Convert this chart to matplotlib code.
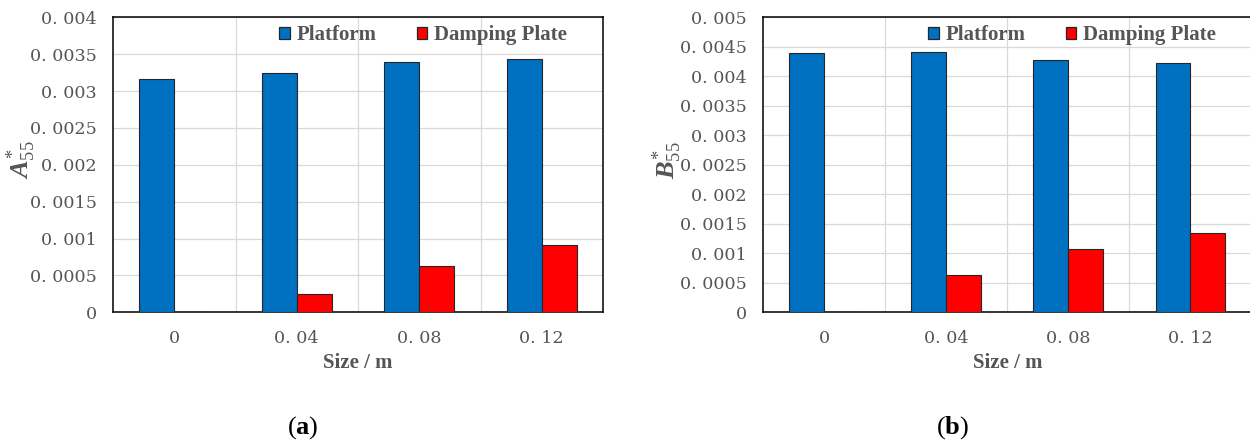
import matplotlib
matplotlib.use("Agg")
import matplotlib.pyplot as plt
from matplotlib.patches import Patch
from matplotlib.font_manager import FontProperties
import numpy as np

# ---- data -------------------------------------------------------------
sizes = ["0", "0. 04", "0. 08", "0. 12"]

a55_platform = [0.00316, 0.00325, 0.00339, 0.00344]
a55_plate = [0.0, 0.000254, 0.000628, 0.000918]

b55_platform = [0.00439, 0.00442, 0.00427, 0.00423]
b55_plate = [0.0, 0.000632, 0.001073, 0.00135]

a_ticks = [0, 0.0005, 0.001, 0.0015, 0.002, 0.0025, 0.003, 0.0035, 0.004]
a_tick_labels = ["0", "0. 0005", "0. 001", "0. 0015", "0. 002",
                 "0. 0025", "0. 003", "0. 0035", "0. 004"]

b_ticks = [0, 0.0005, 0.001, 0.0015, 0.002, 0.0025, 0.003, 0.0035,
           0.004, 0.0045, 0.005]
b_tick_labels = ["0", "0. 0005", "0. 001", "0. 0015", "0. 002", "0. 0025",
                 "0. 003", "0. 0035", "0. 004", "0. 0045", "0. 005"]

series_names = ["Platform", "Damping Plate"]

# ---- style ------------------------------------------------------------
BLUE = "#0070C0"
RED = "#FF0000"
EDGE = "#262626"
GRAY_TXT = "#555555"
GRID = "#d9d9d9"

plt.rcParams["mathtext.fontset"] = "custom"
plt.rcParams["mathtext.rm"] = "Liberation Serif"
plt.rcParams["mathtext.it"] = "Liberation Serif:italic:bold"
plt.rcParams["mathtext.bf"] = "Liberation Serif:bold"

W, H = 1250, 446
fig = plt.figure(figsize=(W / 100, H / 100), dpi=100)

tick_font = FontProperties(family="DejaVu Serif", size=12.6)
bold_font = FontProperties(family="Liberation Serif", weight="bold", size=15)


def panel(rect, platform, plate, ticks, tick_labels, ylabel, ylabel_x,
          caption, caption_x):
    ax = fig.add_axes(rect)
    x = np.arange(len(sizes))
    bw = 0.286
    ax.bar(x - bw / 2, platform, bw, color=BLUE, edgecolor=EDGE,
           linewidth=0.8, zorder=3)
    ax.bar(x + bw / 2, plate, bw, color=RED, edgecolor=EDGE,
           linewidth=0.8, zorder=3)

    ax.set_xlim(-0.5, len(sizes) - 0.5)
    ax.set_ylim(ticks[0], ticks[-1])
    ax.set_yticks(ticks)
    ax.set_yticklabels(tick_labels, fontproperties=tick_font, color=GRAY_TXT)
    ax.set_xticks(x)
    ax.set_xticklabels(sizes, fontproperties=tick_font, color=GRAY_TXT)
    ax.set_xticks(np.arange(0.5, len(sizes) - 0.5, 1.0), minor=True)
    ax.tick_params(axis="both", which="both", length=0)
    ax.tick_params(axis="y", pad=11.5)
    ax.tick_params(axis="x", pad=13.0)

    ax.set_axisbelow(True)
    ax.grid(axis="y", which="major", color=GRID, linewidth=0.9)
    ax.grid(axis="x", which="minor", color=GRID, linewidth=0.9)
    for s in ax.spines.values():
        s.set_color("black")
        s.set_linewidth(1.1)

    ax.legend(handles=[Patch(facecolor=BLUE, edgecolor=EDGE, linewidth=0.9),
                       Patch(facecolor=RED, edgecolor=EDGE, linewidth=0.9)],
              labels=series_names, ncol=2, loc="center",
              bbox_to_anchor=(0.633, 0.939), frameon=False, prop=bold_font,
              labelcolor=GRAY_TXT, handlelength=0.5, handleheight=0.5,
              handletextpad=0.35, columnspacing=1.9, borderpad=0,
              borderaxespad=0)

    cx = rect[0] + rect[2] / 2
    fig.text(cx, 1 - 363 / H, "Size / m", fontproperties=bold_font,
             color=GRAY_TXT, ha="center", va="center")
    fig.text(ylabel_x / W, 1 - 160 / H, ylabel, rotation=90, ha="center",
             va="center", color=GRAY_TXT, fontsize=19)
    fig.text(caption_x / W, 1 - 428 / H, caption, ha="center", va="center",
             color="black", fontsize=19)
    return ax


top, bottom = 17.3, 312.3
panel([113 / W, 1 - bottom / H, 490 / W, (bottom - top) / H],
      a55_platform, a55_plate, a_ticks, a_tick_labels,
      r"$A^{*}_{55}$", 21, r"$(\mathbf{a})$", 303)
panel([763 / W, 1 - bottom / H, 488.5 / W, (bottom - top) / H],
      b55_platform, b55_plate, b_ticks, b_tick_labels,
      r"$B^{*}_{55}$", 667, r"$(\mathbf{b})$", 953)

fig.savefig("out.png", dpi=100)
